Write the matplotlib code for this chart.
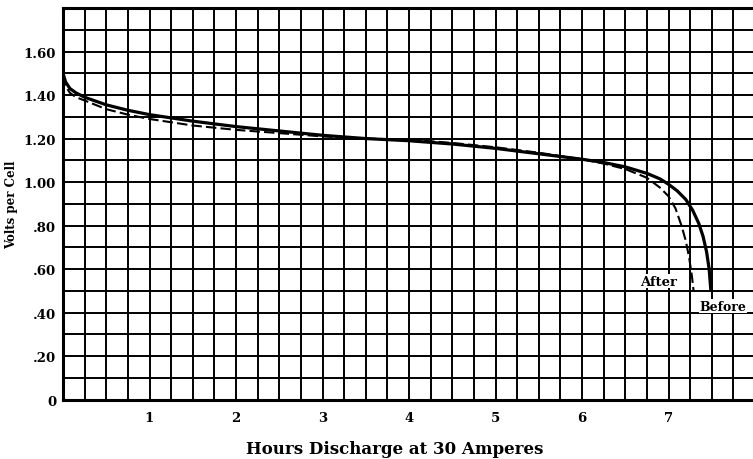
import numpy as np
import matplotlib
matplotlib.use("Agg")
import matplotlib.pyplot as plt

# discharge curves (hours, volts per cell)
before_h = [0.0, 0.03, 0.08, 0.15, 0.25, 0.5, 0.75, 1.0, 1.5, 2.0, 2.5, 3.0, 3.5,
            4.0, 4.5, 5.0, 5.5, 6.0, 6.25, 6.5, 6.75, 6.9, 7.0, 7.1, 7.2, 7.28,
            7.35, 7.4, 7.44, 7.47, 7.49]
before_v = [1.50, 1.46, 1.43, 1.41, 1.39, 1.355, 1.33, 1.31, 1.28, 1.255, 1.235,
            1.215, 1.20, 1.19, 1.175, 1.155, 1.13, 1.105, 1.09, 1.07, 1.04,
            1.015, 0.99, 0.96, 0.92, 0.87, 0.81, 0.75, 0.68, 0.60, 0.50]

after_h = [0.0, 0.03, 0.08, 0.15, 0.25, 0.5, 0.75, 1.0, 1.5, 2.0, 2.5, 3.0, 3.5,
           4.0, 4.5, 5.0, 5.5, 6.0, 6.25, 6.5, 6.75, 6.9, 7.0, 7.08, 7.15, 7.2,
           7.24, 7.27, 7.29]
after_v = [1.49, 1.44, 1.41, 1.39, 1.375, 1.335, 1.31, 1.29, 1.26, 1.24, 1.225,
           1.21, 1.20, 1.195, 1.18, 1.16, 1.135, 1.105, 1.085, 1.06, 1.02, 0.975,
           0.935, 0.88, 0.80, 0.73, 0.65, 0.57, 0.50]

x_ticks = [1, 2, 3, 4, 5, 6, 7]
y_ticks = [0, 0.2, 0.4, 0.6, 0.8, 1.0, 1.2, 1.4, 1.6]
y_labels = ["0", ".20", ".40", ".60", ".80", "1.00", "1.20", "1.40", "1.60"]

font = {"family": "DejaVu Serif", "weight": "bold"}

fig = plt.figure(figsize=(7.53, 4.60), dpi=100)
ax = fig.add_axes([63 / 753, 59.3 / 460, 692 / 753, 391.7 / 460])

ax.set_xlim(0, 8)
ax.set_ylim(0, 1.8)

# squared paper: a line every quarter hour and every 0.1 volt
for gx in np.arange(0.25, 8.0, 0.25):
    ax.axvline(gx, color="black", linewidth=1.4, zorder=1)
for gy in np.arange(0.1, 1.75, 0.1):
    ax.axhline(gy, color="black", linewidth=1.4, zorder=1)

ax.set_xticks(x_ticks)
ax.set_xticklabels([str(v) for v in x_ticks], fontdict=font, fontsize=9.5)
ax.set_yticks(y_ticks)
ax.set_yticklabels(y_labels, fontdict=font, fontsize=9.5)
ax.tick_params(which="both", length=0)
ax.tick_params(axis="x", pad=8)
ax.tick_params(axis="y", pad=5)
for side in ["left", "bottom", "top"]:
    ax.spines[side].set_linewidth(2.2)
ax.spines["right"].set_visible(False)

ax.plot(before_h, before_v, color="black", linewidth=2.3, solid_capstyle="butt", zorder=3)
ax.plot(after_h, after_v, color="black", linewidth=1.5, linestyle=(0, (5, 2)), zorder=3)

ax.text(6.88, 0.545, "After", ha="center", va="center", fontsize=9.5, zorder=4,
        bbox=dict(facecolor="white", edgecolor="none", pad=0.5), **font)
ax.text(7.63, 0.43, "Before", ha="center", va="center", fontsize=9, zorder=4,
        clip_on=False, bbox=dict(facecolor="white", edgecolor="none", pad=0.5), **font)

ax.set_ylabel("Volts per Cell", fontsize=8.5, labelpad=4, **font)
fig.text(395 / 753, 1 - 450 / 460, "Hours Discharge at 30 Amperes",
         ha="center", va="center", fontsize=12, **font)

fig.savefig("out.png", dpi=100)
